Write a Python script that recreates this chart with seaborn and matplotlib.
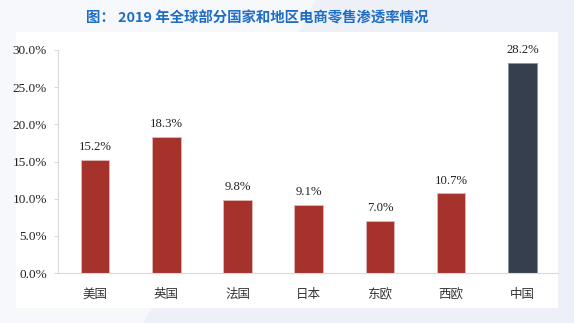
import matplotlib
matplotlib.use("Agg")
import matplotlib.pyplot as plt
import matplotlib.patches as mpatches
import seaborn as sns
import pandas as pd

title = "图： 2019 年全球部分国家和地区电商零售渗透率情况"
regions = ["美国", "英国", "法国", "日本", "东欧", "西欧", "中国"]
values = [15.2, 18.3, 9.8, 9.1, 7.0, 10.7, 28.2]
yticks = [0, 5, 10, 15, 20, 25, 30]

red = "#A5322B"
navy = "#363F4E"
colors = [red] * 6 + [navy]

sns.set_theme(style="white")
plt.rcParams["font.family"] = ["Liberation Serif", "Noto Sans CJK SC", "DejaVu Sans"]

W, H = 574, 323
fig = plt.figure(figsize=(W / 100, H / 100), dpi=100)
fig.patch.set_facecolor("#EDF1F7")

# lighter diagonal shape in background
fig.patches.append(mpatches.Polygon([[0.0, 1.0], [0.55, 1.0], [0.25, 0.0], [0.0, 0.0]],
                                    closed=True, transform=fig.transFigure,
                                    facecolor="#F6F8FB", edgecolor="none", zorder=-3))
# white panel
fig.patches.append(mpatches.Rectangle((16 / W, 1 - 308 / H), (558 - 16) / W, (308 - 32) / H,
                                      transform=fig.transFigure, facecolor="white",
                                      edgecolor="none", zorder=-2))

ax = fig.add_axes([58 / W, 1 - 273 / H, (558 - 58) / W, (273 - 50) / H])
ax.set_facecolor("none")
ax.set_zorder(1)

df = pd.DataFrame({"region": regions, "value": values})
sns.barplot(data=df, x="region", y="value", hue="region", palette=colors,
            legend=False, width=0.4, ax=ax, edgecolor="#E8C8C8", linewidth=0.6, saturation=1)

for p in ax.patches[:6]:
    p.set_edgecolor("#E3B9B6")
ax.patches[6].set_edgecolor("#8A93A3")

for i, v in enumerate(values):
    ax.annotate(f"{v:.1f}%", (i, v), xytext=(0, 5), textcoords="offset points",
                ha="center", va="bottom", fontsize=9.2, color="#222222",
                family="Liberation Serif")

ax.set_xlim(-0.52, 6.5)
ax.set_ylim(0, 30)
ax.set_yticks(yticks)
ax.set_yticklabels([f"{t:.1f}%" for t in yticks], fontsize=9.5, color="#222222",
                   family="Liberation Serif")
ax.set_xticks(range(len(regions)))
ax.set_xticklabels(regions, fontsize=9, color="#333333", family="Noto Sans CJK SC")
ax.set_xlabel("")
ax.set_ylabel("")

for s in ["top", "right"]:
    ax.spines[s].set_visible(False)
for s in ["left", "bottom"]:
    ax.spines[s].set_color("#D9D9D9")
    ax.spines[s].set_linewidth(0.8)
ax.tick_params(axis="y", which="major", left=True, length=3, width=0.6, color="#D0D0D0", pad=5)
ax.tick_params(axis="x", bottom=False, pad=5)

fig.text(257 / W, 1 - 18 / H, title, ha="center", va="center", fontsize=10.4,
         fontweight="bold", color="#1E6EC6", family=["Noto Sans CJK SC", "DejaVu Sans"])

fig.savefig("out.png", dpi=100, facecolor=fig.get_facecolor())
